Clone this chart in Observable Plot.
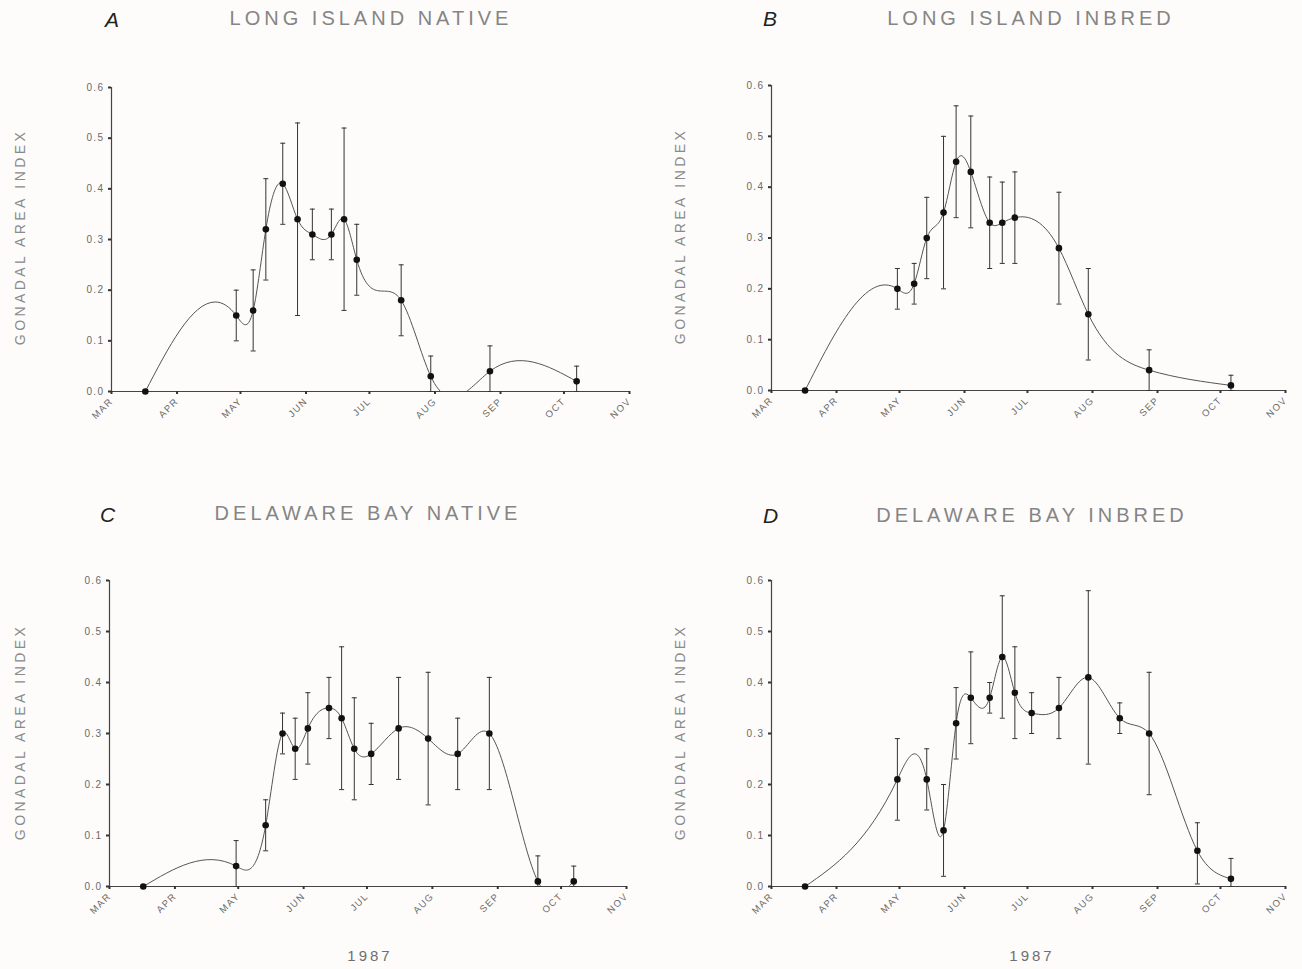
<!DOCTYPE html>
<html>
<head>
<meta charset="utf-8">
<script src="https://cdn.jsdelivr.net/npm/d3@7"></script>
<script src="https://cdn.jsdelivr.net/npm/@observablehq/plot@0.6"></script>
<style>
  body { margin: 0; background: #fdfcfa; }
  #root { position: relative; width: 1302px; height: 969px; overflow: hidden; font-family: "Liberation Sans", Arial, sans-serif; }
  .panel { position: absolute; }
  .panel svg text { letter-spacing: 1.4px; }
  .title { position: absolute; transform: translate(-50%, -50%); font-size: 20px; letter-spacing: 4px; color: #858585; white-space: nowrap; }
  .letter { position: absolute; transform: translate(0, -50%); font-style: italic; font-size: 21px; color: #222; }
  .ylab { position: absolute; transform: translate(-50%, -50%) rotate(-90deg); font-size: 14px; letter-spacing: 3.4px; color: #8a8a8a; white-space: nowrap; }
  .year { position: absolute; transform: translate(-50%, -50%); font-size: 15px; letter-spacing: 3px; color: #6f6f6f; }
</style>
</head>
<body>
<div id="root"></div>
<script>
// ---------- data ----------
const monthTicks = ["1987-03-01","1987-04-01","1987-05-01","1987-06-01","1987-07-01","1987-08-01","1987-09-01","1987-10-01","1987-11-01"];
const monthLabels = ["MAR","APR","MAY","JUN","JUL","AUG","SEP","OCT","NOV"];
const yTicks = [0, 0.1, 0.2, 0.3, 0.4, 0.5, 0.6];

// A: Long Island native
const aDates = ["1987-03-17","1987-04-29","1987-05-07","1987-05-13","1987-05-21","1987-05-28","1987-06-04","1987-06-13","1987-06-19","1987-06-25","1987-07-16","1987-07-30","1987-08-27","1987-10-07"];
const aValues = [0, 0.15, 0.16, 0.32, 0.41, 0.34, 0.31, 0.31, 0.34, 0.26, 0.18, 0.03, 0.04, 0.02];
const aLow  = [null, 0.10, 0.08, 0.22, 0.33, 0.15, 0.26, 0.26, 0.16, 0.19, 0.11, 0.00, 0.00, 0.00];
const aHigh = [null, 0.20, 0.24, 0.42, 0.49, 0.53, 0.36, 0.36, 0.52, 0.33, 0.25, 0.07, 0.09, 0.05];

// B: Long Island inbred
const bDates = ["1987-03-17","1987-04-30","1987-05-08","1987-05-14","1987-05-22","1987-05-28","1987-06-04","1987-06-13","1987-06-19","1987-06-25","1987-07-16","1987-07-30","1987-08-28","1987-10-06"];
const bValues = [0, 0.20, 0.21, 0.30, 0.35, 0.45, 0.43, 0.33, 0.33, 0.34, 0.28, 0.15, 0.04, 0.01];
const bLow  = [null, 0.16, 0.17, 0.22, 0.20, 0.34, 0.32, 0.24, 0.25, 0.25, 0.17, 0.06, 0.00, 0.00];
const bHigh = [null, 0.24, 0.25, 0.38, 0.50, 0.56, 0.54, 0.42, 0.41, 0.43, 0.39, 0.24, 0.08, 0.03];

// C: Delaware Bay native
const cDates = ["1987-03-17","1987-04-30","1987-05-14","1987-05-22","1987-05-28","1987-06-03","1987-06-13","1987-06-19","1987-06-25","1987-07-03","1987-07-16","1987-07-30","1987-08-13","1987-08-28","1987-09-20","1987-10-07"];
const cValues = [0, 0.04, 0.12, 0.30, 0.27, 0.31, 0.35, 0.33, 0.27, 0.26, 0.31, 0.29, 0.26, 0.30, 0.01, 0.01];
const cLow  = [null, 0.00, 0.07, 0.26, 0.21, 0.24, 0.29, 0.19, 0.17, 0.20, 0.21, 0.16, 0.19, 0.19, 0.00, 0.00];
const cHigh = [null, 0.09, 0.17, 0.34, 0.33, 0.38, 0.41, 0.47, 0.37, 0.32, 0.41, 0.42, 0.33, 0.41, 0.06, 0.04];

// D: Delaware Bay inbred
const dDates = ["1987-03-17","1987-04-30","1987-05-14","1987-05-22","1987-05-28","1987-06-04","1987-06-13","1987-06-19","1987-06-25","1987-07-03","1987-07-16","1987-07-30","1987-08-14","1987-08-28","1987-09-20","1987-10-06"];
const dValues = [0, 0.21, 0.21, 0.11, 0.32, 0.37, 0.37, 0.45, 0.38, 0.34, 0.35, 0.41, 0.33, 0.30, 0.07, 0.015];
const dLow  = [null, 0.13, 0.15, 0.02, 0.25, 0.28, 0.34, 0.33, 0.29, 0.30, 0.29, 0.24, 0.30, 0.18, 0.005, 0.00];
const dHigh = [null, 0.29, 0.27, 0.20, 0.39, 0.46, 0.40, 0.57, 0.47, 0.38, 0.41, 0.58, 0.36, 0.42, 0.125, 0.055];

// ---------- helpers ----------
const parse = d3.utcParse("%Y-%m-%d");

// natural cubic spline y(x) as a d3 curve factory
function splineX(context) {
  let xs, ys;
  return {
    areaStart() {}, areaEnd() {},
    lineStart() { xs = []; ys = []; },
    point(x, y) { xs.push(+x); ys.push(+y); },
    lineEnd() {
      const n = xs.length;
      if (!n) return;
      context.moveTo(xs[0], ys[0]);
      if (n < 3) { for (let i = 1; i < n; i++) context.lineTo(xs[i], ys[i]); return; }
      const h = [], M = new Array(n).fill(0);
      for (let i = 0; i < n - 1; i++) h.push(xs[i + 1] - xs[i]);
      const a = [], b = [], c = [], r = [];
      for (let i = 1; i < n - 1; i++) {
        a.push(h[i - 1]); b.push(2 * (h[i - 1] + h[i])); c.push(h[i]);
        r.push(6 * ((ys[i + 1] - ys[i]) / h[i] - (ys[i] - ys[i - 1]) / h[i - 1]));
      }
      const m = b.length;
      for (let i = 1; i < m; i++) {
        const w = a[i] / b[i - 1];
        b[i] -= w * c[i - 1];
        r[i] -= w * r[i - 1];
      }
      const sol = new Array(m);
      sol[m - 1] = r[m - 1] / b[m - 1];
      for (let i = m - 2; i >= 0; i--) sol[i] = (r[i] - c[i] * sol[i + 1]) / b[i];
      for (let i = 0; i < m; i++) M[i + 1] = sol[i];
      for (let i = 0; i < n - 1; i++) {
        const hi = h[i], s = (ys[i + 1] - ys[i]) / hi;
        const d0 = s - hi * (2 * M[i] + M[i + 1]) / 6;
        const d1 = s + hi * (M[i] + 2 * M[i + 1]) / 6;
        context.bezierCurveTo(xs[i] + hi / 3, ys[i] + d0 * hi / 3,
                              xs[i + 1] - hi / 3, ys[i + 1] - d1 * hi / 3,
                              xs[i + 1], ys[i + 1]);
      }
    }
  };
}

const capSymbol = {
  draw(context, size) {
    const w = Math.sqrt(size / Math.PI);
    context.moveTo(-w, 0);
    context.lineTo(w, 0);
  }
};

function makePanel(dates, values, low, high, m) {
  const pts = dates.map((d, i) => ({date: parse(d), v: values[i], lo: low[i], hi: high[i]}));
  const bars = pts.filter(p => p.lo != null);
  const ticks = monthTicks.map(parse);
  return Plot.plot({
    width: m.width, height: m.height,
    marginLeft: m.left, marginRight: m.right, marginTop: m.top, marginBottom: m.bottom,
    style: {background: "transparent", color: "#6a6a6a", fontFamily: "Liberation Sans, Arial, sans-serif", fontSize: "10px"},
    x: {type: "utc", domain: [ticks[0], ticks[ticks.length - 1]], label: null},
    y: {domain: [0, 0.6], label: null},
    marks: [
      Plot.ruleY([0], {stroke: "#444", strokeWidth: 1.2}),
      Plot.ruleX([ticks[0]], {stroke: "#444", strokeWidth: 1.2}),
      Plot.axisX({ticks: ticks, tickFormat: d => monthLabels[ticks.findIndex(t => +t === +d)],
                  tickRotate: -45, tickSize: 3, tickPadding: 5, strokeWidth: 2, stroke: "#333", fontSize: 9.5}),
      Plot.axisY({ticks: yTicks, tickFormat: d3.format(".1f"), tickSize: 3, tickPadding: 4, strokeWidth: 2, stroke: "#333"}),
      Plot.line(pts, {x: "date", y: "v", curve: splineX, stroke: "#555", strokeWidth: 1, clip: true}),
      Plot.ruleX(bars, {x: "date", y1: "lo", y2: "hi", stroke: "#333", strokeWidth: 1}),
      Plot.dot(bars, {x: "date", y: "lo", symbol: capSymbol, r: 2.5, stroke: "#333", fill: "none", strokeWidth: 1}),
      Plot.dot(bars, {x: "date", y: "hi", symbol: capSymbol, r: 2.5, stroke: "#333", fill: "none", strokeWidth: 1}),
      Plot.dot(pts, {x: "date", y: "v", r: 3.3, fill: "#111", stroke: "none"})
    ]
  });
}

const root = document.getElementById("root");
function place(el, left, top) {
  const wrap = document.createElement("div");
  wrap.className = "panel";
  wrap.style.left = left + "px";
  wrap.style.top = top + "px";
  wrap.appendChild(el);
  root.appendChild(wrap);
}
function label(cls, text, x, y) {
  const el = document.createElement("div");
  el.className = cls;
  el.textContent = text;
  el.style.left = x + "px";
  el.style.top = y + "px";
  root.appendChild(el);
}

place(makePanel(aDates, aValues, aLow, aHigh, {width: 650, height: 460, left: 111, right: 21, top: 87, bottom: 69}), 0, 0);
place(makePanel(bDates, bValues, bLow, bHigh, {width: 652, height: 460, left: 121, right: 17, top: 85, bottom: 70}), 650, 0);
place(makePanel(cDates, cValues, cLow, cHigh, {width: 650, height: 460, left: 109, right: 24, top: 100, bottom: 54}), 0, 480);
place(makePanel(dDates, dValues, dLow, dHigh, {width: 652, height: 460, left: 121, right: 17, top: 100, bottom: 54}), 650, 480);

label("letter", "A", 105, 20);
label("letter", "B", 763, 19);
label("letter", "C", 100, 515);
label("letter", "D", 763, 516);
label("title", "LONG ISLAND NATIVE", 371, 18);
label("title", "LONG ISLAND INBRED", 1031, 18);
label("title", "DELAWARE BAY NATIVE", 368, 513);
label("title", "DELAWARE BAY INBRED", 1032, 515);
label("ylab", "GONADAL AREA INDEX", 20, 237);
label("ylab", "GONADAL AREA INDEX", 680, 236);
label("ylab", "GONADAL AREA INDEX", 20, 732);
label("ylab", "GONADAL AREA INDEX", 680, 732);
label("year", "1987", 370, 955);
label("year", "1987", 1032, 955);
</script>
</body>
</html>
